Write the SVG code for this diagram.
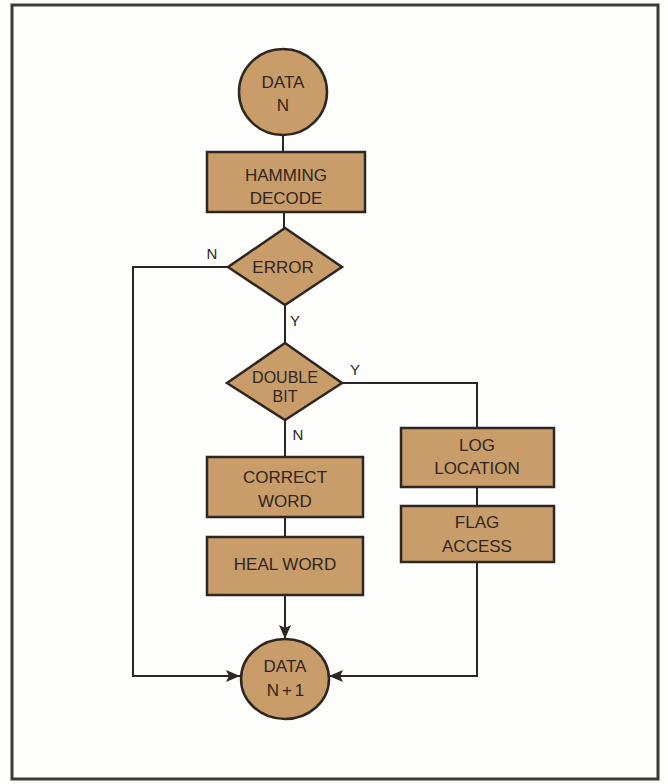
<svg xmlns="http://www.w3.org/2000/svg" width="668" height="784" viewBox="0 0 668 784">
  <defs>
    <style>
      .node { fill: #c99d6a; stroke: #2e2620; stroke-width: 2.5; }
      .lbl { font-family: "Liberation Sans", Arial, sans-serif; font-size: 17px; fill: #30261d; text-anchor: middle; }
      .tight { font-size: 16px; }
      .yn { font-family: "Liberation Sans", Arial, sans-serif; font-size: 15px; fill: #2e2620; text-anchor: middle; }
      .wire { fill: none; stroke: #2b2622; stroke-width: 2; }
    </style>
    <marker id="arrow" viewBox="0 0 14 12" refX="14" refY="6" markerWidth="14" markerHeight="12" markerUnits="userSpaceOnUse" orient="auto">
      <path d="M0,0 L14,6 L0,12 L3,6 Z" fill="#2b2622"/>
    </marker>
  </defs>

  <rect x="0" y="0" width="668" height="784" fill="#fdfdfb"/>
  <rect x="12" y="5" width="646" height="774" fill="none" stroke="#3a3a3a" stroke-width="3"/>

  <g id="connectors">
    <line class="wire" x1="283" y1="135" x2="283" y2="152"/>
    <line class="wire" x1="284" y1="212" x2="284" y2="228"/>
    <line class="wire" x1="285" y1="305" x2="285" y2="343"/>
    <line class="wire" x1="285" y1="420" x2="285" y2="457"/>
    <line class="wire" x1="285" y1="517" x2="285" y2="537"/>
    <line class="wire" x1="285" y1="595" x2="285" y2="639" marker-end="url(#arrow)"/>
    <polyline class="wire" points="228,267 133,267 133,676 240,676" marker-end="url(#arrow)"/>
    <polyline class="wire" points="342,383 477,383 477,428"/>
    <line class="wire" x1="477" y1="487" x2="477" y2="506"/>
    <polyline class="wire" points="477,562 477,676 329,676" marker-end="url(#arrow)"/>
    <text class="yn" x="212" y="259">N</text>
    <text class="yn" x="295" y="326">Y</text>
    <text class="yn" x="355" y="375">Y</text>
    <text class="yn" x="298" y="440">N</text>
  </g>

  <g id="data-n">
    <ellipse class="node" cx="283" cy="92" rx="44" ry="43"/>
    <text class="lbl" x="283" y="88">DATA</text>
    <text class="lbl" x="283" y="111">N</text>
  </g>

  <g id="hamming-decode">
    <rect class="node" x="207" y="152" width="158" height="60"/>
    <text class="lbl" x="286" y="181">HAMMING</text>
    <text class="lbl" x="286" y="204">DECODE</text>
  </g>

  <g id="error">
    <polygon class="node" points="228,267 285,228 342,267 285,305"/>
    <text class="lbl" x="283" y="273">ERROR</text>
  </g>

  <g id="double-bit">
    <polygon class="node" points="227,383 285,343 342,383 285,420"/>
    <text class="lbl tight" x="285" y="383">DOUBLE</text>
    <text class="lbl tight" x="285" y="402">BIT</text>
  </g>

  <g id="correct-word">
    <rect class="node" x="207" y="457" width="156" height="60"/>
    <text class="lbl" x="285" y="483">CORRECT</text>
    <text class="lbl" x="285" y="507">WORD</text>
  </g>

  <g id="heal-word">
    <rect class="node" x="207" y="537" width="156" height="58"/>
    <text class="lbl" x="285" y="570">HEAL WORD</text>
  </g>

  <g id="log-location">
    <rect class="node" x="401" y="428" width="153" height="59"/>
    <text class="lbl" x="477" y="451">LOG</text>
    <text class="lbl" x="477" y="474">LOCATION</text>
  </g>

  <g id="flag-access">
    <rect class="node" x="401" y="506" width="153" height="56"/>
    <text class="lbl" x="477" y="528">FLAG</text>
    <text class="lbl" x="477" y="552">ACCESS</text>
  </g>

  <g id="data-n1">
    <ellipse class="node" cx="285" cy="679" rx="44" ry="40"/>
    <text class="lbl" x="285" y="672">DATA</text>
    <text class="lbl" x="287" y="696" letter-spacing="3">N+1</text>
  </g>
</svg>
